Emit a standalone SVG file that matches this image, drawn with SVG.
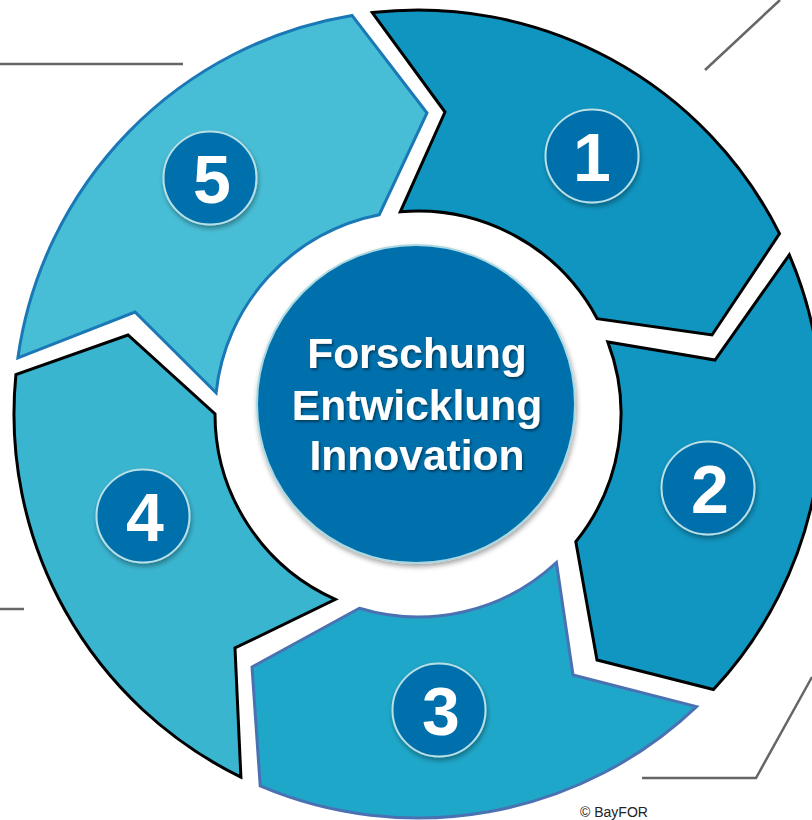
<svg xmlns="http://www.w3.org/2000/svg" width="812" height="820" viewBox="0 0 812 820">
<defs>
<style>
.seg{stroke-width:3;stroke-linejoin:miter}
.badge{fill:#006fac;stroke:#b7dfe6;stroke-width:2}
.num{font-family:"Liberation Sans",Arial,sans-serif;font-weight:bold;font-size:68px;fill:#ffffff;text-anchor:middle}
.ctr{font-family:"Liberation Sans",Arial,sans-serif;font-weight:bold;font-size:42.5px;fill:#ffffff;text-anchor:middle}
.lead{stroke:#666666;stroke-width:2.5;fill:none}
</style>
<filter id="sh" x="-30%" y="-30%" width="160%" height="160%">
<feDropShadow dx="1" dy="3" stdDeviation="2.5" flood-color="#000" flood-opacity="0.35"/>
</filter>
<filter id="tsh" x="-10%" y="-20%" width="120%" height="140%">
<feDropShadow dx="1.5" dy="2" stdDeviation="1.2" flood-color="#002a40" flood-opacity="0.7"/>
</filter>
</defs>
<rect width="812" height="820" fill="#ffffff"/>
<g id="leaders">
<line class="lead" x1="0" y1="64" x2="183" y2="64"/>
<line class="lead" x1="705" y1="70" x2="780" y2="0"/>
<line class="lead" x1="0" y1="609" x2="24" y2="609"/>
<polyline class="lead" points="642,778 756,778 812,677"/>
</g>
<g id="step1">
<path class="seg" fill="#1095c1" stroke="#000" d="M372.3,12.6 L445,112 L400.3,211.8 A203,203 0 0 1 597.2,318.7 L712,335 L779.5,233.7 A404,404 0 0 0 372.3,12.6 Z"/>
<circle class="badge" cx="592" cy="156" r="46.5" filter="url(#sh)"/>
<text class="num" x="592" y="181">1</text>
</g>
<g id="step2">
<path class="seg" fill="#1195c1" stroke="#000" d="M789.3,254.9 L715,360 L607.8,341.9 A203,203 0 0 1 575.8,541.7 L597,660 L713.5,689.5 A404,404 0 0 0 789.3,254.9 Z"/>
<circle class="badge" cx="708" cy="488" r="46.5" filter="url(#sh)"/>
<text class="num" x="710" y="513">2</text>
</g>
<g id="step3">
<path class="seg" fill="#1fa7c9" stroke="#4a72b2" d="M696.6,706.6 L573,675 L556.4,562.5 A203,203 0 0 1 359.3,608.3 L252,667 L260.2,785.9 A404,404 0 0 0 696.6,706.6 Z"/>
<circle class="badge" cx="439" cy="710" r="46.5" filter="url(#sh)"/>
<text class="num" x="441" y="735">3</text>
</g>
<g id="step4">
<path class="seg" fill="#3ab5d0" stroke="#000" d="M240.9,777.1 L235,648 L335.4,599.4 A203,203 0 0 1 215,414 L128,335 L15.9,374.6 A404,404 0 0 0 240.9,777.1 Z"/>
<circle class="badge" cx="143" cy="516" r="46.5" filter="url(#sh)"/>
<text class="num" x="145" y="541">4</text>
</g>
<g id="step5">
<path class="seg" fill="#48bed6" stroke="#1a78b6" d="M17.9,357.8 L135,312 L216.1,392.8 A203,203 0 0 1 379.3,214.7 L427,113 L352,15.4 A404,404 0 0 0 17.9,357.8 Z"/>
<circle class="badge" cx="210" cy="178" r="46.5" filter="url(#sh)"/>
<text class="num" x="212" y="203">5</text>
</g>
<g id="center">
<circle cx="416" cy="404" r="159" fill="#006fac" stroke="#a9d8e2" stroke-width="2" filter="url(#sh)"/>
<g filter="url(#tsh)">
<text class="ctr" x="417" y="368">Forschung</text>
<text class="ctr" x="417" y="420">Entwicklung</text>
<text class="ctr" x="417" y="470">Innovation</text>
</g>
</g>
<text x="580" y="817" font-family="'Liberation Sans',Arial,sans-serif" font-size="14" fill="#222">© BayFOR</text>
</svg>
